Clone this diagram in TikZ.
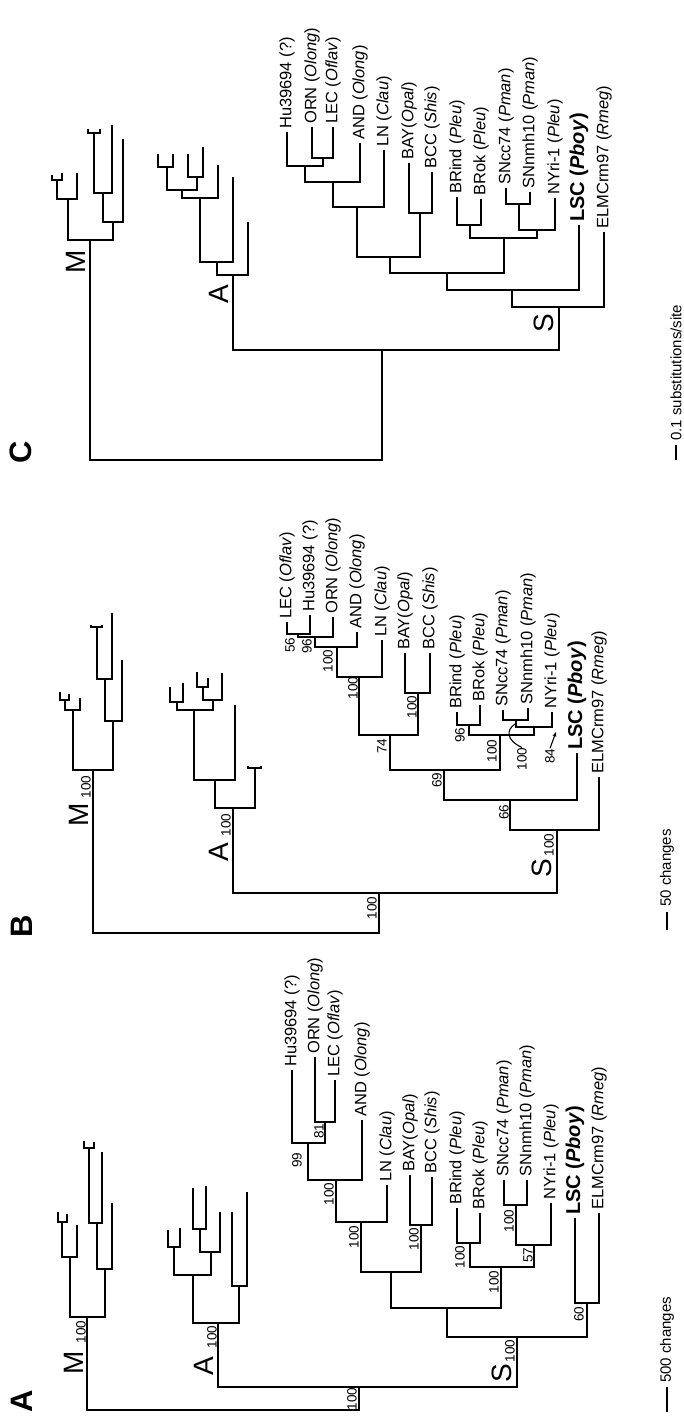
\documentclass[tikz,border=0pt]{standalone}
\usepackage{fontspec}
\setmainfont{Liberation Sans}
\usetikzlibrary{arrows.meta}
\tikzset{
  tree/.style={line width=2.2pt, line join=miter},
  tip/.style={rotate=90, anchor=west, inner xsep=3pt, inner ysep=0pt, font=\fontsize{16.5}{18}\selectfont},
  tipbig/.style={tip, font=\fontsize{20}{22}\selectfont\bfseries},
  boot/.style={rotate=90, inner sep=0pt, font=\fontsize{13.5}{14}\selectfont},
  clade/.style={rotate=90, inner sep=0pt, font=\fontsize{28}{30}\selectfont},
  panel/.style={rotate=90, inner sep=0pt, font=\fontsize{31}{33}\selectfont\bfseries},
  scaletext/.style={rotate=90, anchor=west, inner sep=0pt, font=\fontsize{15}{16}\selectfont},
  scalebar/.style={line width=1.6pt},
  leader/.style={line width=1.1pt},
}
\newcommand\mytips[1]{%
  \node[tip] (tHu#1) at (Hu#1) {Hu39694 (?)};
  \node[tip] (tORN#1) at (ORN#1) {ORN (\textit{Olong})};
  \node[tip] (tLEC#1) at (LEC#1) {LEC (\textit{Oflav})};
  \node[tip] (tAND#1) at (AND#1) {AND (\textit{Olong})};
  \node[tip] (tLN#1) at (LN#1) {LN (\textit{Clau})};
  \node[tip] (tBAY#1) at (BAY#1) {BAY(\textit{Opal})};
  \node[tip] (tBCC#1) at (BCC#1) {BCC (\textit{Shis})};
  \node[tip] (tBRind#1) at (BRind#1) {BRind (\textit{Pleu})};
  \node[tip] (tBRok#1) at (BRok#1) {BRok (\textit{Pleu})};
  \node[tip] (tSNcc#1) at (SNcc#1) {SNcc74 (\textit{Pman})};
  \node[tip] (tSNnm#1) at (SNnm#1) {SNnmh10 (\textit{Pman})};
  \node[tip] (tNYri#1) at (NYri#1) {NYri-1 (\textit{Pleu})};
  \node[tipbig] (tLSC#1) at (LSC#1) {LSC (\textit{Pboy})};
  \node[tip] (tELM#1) at (ELM#1) {ELMCrm97 (\textit{Rmeg})};
}
\newcommand\myedges[1]{%
  \foreach \c/\p in {m/root, as/root, a/as, s/as,
     m1/m, m2/m, m11/m1, m12/m1, m11a/m11, m11b/m11,
     m21/m2, m22/m2, m211/m21, m212/m21, m211a/m211, m211b/m211,
     s1/s, ELM/s, s2/s1, LSC/s1, s3/s2, s4/s2, s5/s3, s6/s3,
     BAY/s6, BCC/s6, s7/s5, LN/s5, s8/s7, AND/s7, s9/s8,
     s10/s4, s11/s4, BRind/s10, BRok/s10, s12/s11, NYri/s11,
     SNcc/s12, SNnm/s12}
    {\draw[tree] (\c#1) |- (\p#1);}
}
\begin{document}
\begin{tikzpicture}[x=1pt,y=-1pt]
\useasboundingbox[fill=white] (0,0) rectangle (684,1418);

% ================= Panel C =================
\coordinate (rootC) at (236,460);
\coordinate (mC) at (90,240);
\coordinate (asC) at (382,350);
\coordinate (aC) at (233,275);
\coordinate (sC) at (559,307);
\coordinate (m1C) at (68,199);
\coordinate (m2C) at (113,222);
\coordinate (m11C) at (57,180);
\coordinate (m11aC) at (52,175);
\coordinate (m11bC) at (62,173);
\coordinate (m12C) at (77,173);
\coordinate (m21C) at (103,193);
\coordinate (m22C) at (123,139);
\coordinate (m211C) at (94,133);
\coordinate (m212C) at (112,125);
\coordinate (m211aC) at (88,129);
\coordinate (m211bC) at (100,129);
\coordinate (a1C) at (217,262);
\coordinate (a2C) at (248,222);
\coordinate (a11C) at (200,198);
\coordinate (a12C) at (233,177);
\coordinate (a111C) at (182,190);
\coordinate (a112C) at (218,165);
\coordinate (a1111C) at (167,167);
\coordinate (a1112C) at (197,177);
\coordinate (a1111aC) at (158,154);
\coordinate (a1111bC) at (173,154);
\coordinate (a1112aC) at (188,154);
\coordinate (a1112bC) at (203,147);
\coordinate (s1C) at (512,290);
\coordinate (ELMC) at (604,232);
\coordinate (s2C) at (447,273);
\coordinate (LSCC) at (579,225);
\coordinate (s3C) at (390,257);
\coordinate (s4C) at (504,238);
\coordinate (s5C) at (357,207);
\coordinate (s6C) at (420,213);
\coordinate (BAYC) at (409,163);
\coordinate (BCCC) at (432,172);
\coordinate (s7C) at (333,182);
\coordinate (LNC) at (384,150);
\coordinate (s8C) at (305,166);
\coordinate (ANDC) at (360,143);
\coordinate (HuC) at (287,132);
\coordinate (s9C) at (323,158);
\coordinate (ORNC) at (312,127);
\coordinate (LECC) at (333,127);
\coordinate (s10C) at (470,225);
\coordinate (s11C) at (537,230);
\coordinate (BRindC) at (457,197);
\coordinate (BRokC) at (481,199);
\coordinate (s12C) at (519,204);
\coordinate (NYriC) at (555,198);
\coordinate (SNccC) at (506,188);
\coordinate (SNnmC) at (530,192);
\myedges{C}
\draw[tree] (HuC) |- (s8C);
\foreach \c/\p in {ORNC/s9C, LECC/s9C, a1C/aC, a2C/aC, a11C/a1C, a12C/a1C,
   a111C/a11C, a112C/a11C, a1111C/a111C, a1112C/a111C,
   a1111aC/a1111C, a1111bC/a1111C, a1112aC/a1112C, a1112bC/a1112C}
  {\draw[tree] (\c) |- (\p);}
\mytips{C}
\node[clade] (labMC) at (76,262) {M};
\node[clade] (labAC) at (219,294) {A};
\node[clade] (labSC) at (544,323) {S};
\node[panel] (panC) at (21,452) {C};
\coordinate (barC1) at (676,460);
\coordinate (barC2) at (676,445);
\draw[scalebar] (barC1) -- (barC2);
\node[scaletext] (scC) at (676,441) {0.1 substitutions/site};

% ================= Panel B =================
\coordinate (rootB) at (236,933);
\coordinate (mB) at (93,770);
\coordinate (asB) at (379,893);
\coordinate (aB) at (233,808);
\coordinate (sB) at (557,830);
\coordinate (m1B) at (73,710);
\coordinate (m2B) at (113,721);
\coordinate (m11B) at (65,700);
\coordinate (m11aB) at (60,692);
\coordinate (m11bB) at (69,694);
\coordinate (m12B) at (80,698);
\coordinate (m21B) at (105,679);
\coordinate (m22B) at (122,660);
\coordinate (m211B) at (97,627);
\coordinate (m212B) at (112,613);
\coordinate (m211aB) at (91,625);
\coordinate (m211bB) at (102,625);
\coordinate (a1B) at (215,780);
\coordinate (a2B) at (255,768);
\coordinate (a2aB) at (248,766);
\coordinate (a2bB) at (261,766);
\coordinate (a11B) at (194,710);
\coordinate (a12B) at (235,705);
\coordinate (a111B) at (177,702);
\coordinate (a112B) at (213,700);
\coordinate (a111aB) at (170,687);
\coordinate (a111bB) at (183,683);
\coordinate (a1121B) at (203,687);
\coordinate (a1122B) at (222,673);
\coordinate (a1121aB) at (197,672);
\coordinate (a1121bB) at (208,678);
\coordinate (s1B) at (510,800);
\coordinate (ELMB) at (599,777);
\coordinate (s2B) at (444,770);
\coordinate (LSCB) at (577,753);
\coordinate (s3B) at (390,735);
\coordinate (s4B) at (500,735);
\coordinate (s5B) at (359,677);
\coordinate (s6B) at (418,693);
\coordinate (BAYB) at (405,653);
\coordinate (BCCB) at (430,653);
\coordinate (s7B) at (337,647);
\coordinate (LNB) at (382,640);
\coordinate (s8B) at (315,637);
\coordinate (ANDB) at (357,632);
\coordinate (s9B) at (298,634);
\coordinate (ORNB) at (333,617);
\coordinate (LECB) at (287,622);
\coordinate (HuB) at (310,615);
\coordinate (s10B) at (469,725);
\coordinate (s11B) at (534,727);
\coordinate (BRindB) at (457,712);
\coordinate (BRokB) at (480,705);
\coordinate (s12B) at (516,720);
\coordinate (NYriB) at (552,712);
\coordinate (SNccB) at (503,710);
\coordinate (SNnmB) at (528,708);
\myedges{B}
\foreach \c/\p in {ORNB/s8B, LECB/s9B, HuB/s9B, a1B/aB, a2B/aB, a2aB/a2B, a2bB/a2B,
   a11B/a1B, a12B/a1B, a111B/a11B, a112B/a11B, a111aB/a111B, a111bB/a111B,
   a1121B/a112B, a1122B/a112B, a1121aB/a1121B, a1121bB/a1121B}
  {\draw[tree] (\c) |- (\p);}
\mytips{B}
\node[clade] (labMB) at (79,815) {M};
\node[boot] (bMB) at (86,787) {100};
\node[clade] (labAB) at (219,852) {A};
\node[boot] (bAB) at (226,825) {100};
\node[clade] (labSB) at (542,868) {S};
\node[boot] (bSB) at (549,845) {100};
\node[boot] (bASB) at (372,908) {100};
\node[boot] (b66B) at (504,812) {66};
\node[boot] (b69B) at (437,780) {69};
\node[boot] (b74B) at (382,746) {74};
\node[boot] (bBAYB) at (412,707) {100};
\node[boot] (bLNB) at (353,688) {100};
\node[boot] (bANDB) at (328,661) {100};
\node[boot] (b96B) at (307,646) {96};
\node[boot] (b56B) at (290,645) {56};
\node[boot] (b96bB) at (460,735) {96};
\node[boot] (bs4B) at (492,751) {100};
\node[boot] (bSNB) at (522,759) {100};
\node[boot] (b84B) at (550,756) {84};
\coordinate (ldSN) at (515,724);
\coordinate (ar84) at (556,732);
\draw[leader] (bSNB.east) .. controls (506,740) and (506,730) .. (ldSN);
\draw[leader,-{Stealth[length=5pt,width=4pt]}] (b84B.east) -- (ar84);
\node[panel] (panB) at (22,926) {B};
\coordinate (barB1) at (667,930);
\coordinate (barB2) at (667,912);
\draw[scalebar] (barB1) -- (barB2);
\node[scaletext] (scB) at (667,907) {50 changes};

% ================= Panel A =================
\coordinate (rootA) at (223,1410);
\coordinate (mA) at (87,1317);
\coordinate (asA) at (359,1387);
\coordinate (aA) at (218,1323);
\coordinate (sA) at (517,1337);
\coordinate (m1A) at (70,1257);
\coordinate (m2A) at (105,1269);
\coordinate (m11A) at (62,1222);
\coordinate (m11aA) at (58,1212);
\coordinate (m11bA) at (67,1214);
\coordinate (m12A) at (77,1225);
\coordinate (m21A) at (97,1223);
\coordinate (m22A) at (112,1203);
\coordinate (m211A) at (89,1148);
\coordinate (m212A) at (102,1152);
\coordinate (m211aA) at (84,1141);
\coordinate (m211bA) at (94,1142);
\coordinate (a1A) at (193,1275);
\coordinate (a2A) at (239,1286);
\coordinate (a2aA) at (232,1212);
\coordinate (a2bA) at (247,1192);
\coordinate (a11A) at (174,1247);
\coordinate (a12A) at (211,1252);
\coordinate (a11aA) at (168,1230);
\coordinate (a11bA) at (180,1228);
\coordinate (a121A) at (200,1229);
\coordinate (a122A) at (220,1212);
\coordinate (a121aA) at (193,1188);
\coordinate (a121bA) at (206,1186);
\coordinate (s1A) at (447,1308);
\coordinate (s2A) at (587,1303);
\coordinate (LSCA) at (575,1218);
\coordinate (ELMA) at (599,1213);
\coordinate (s3A) at (391,1272);
\coordinate (s4A) at (501,1267);
\coordinate (s5A) at (361,1222);
\coordinate (s6A) at (421,1225);
\coordinate (BAYA) at (410,1175);
\coordinate (BCCA) at (432,1177);
\coordinate (s7A) at (336,1180);
\coordinate (LNA) at (387,1185);
\coordinate (s8A) at (308,1143);
\coordinate (ANDA) at (362,1120);
\coordinate (HuA) at (292,1070);
\coordinate (s9A) at (325,1122);
\coordinate (ORNA) at (315,1057);
\coordinate (LECA) at (335,1080);
\coordinate (s10A) at (470,1243);
\coordinate (s11A) at (534,1245);
\coordinate (BRindA) at (457,1208);
\coordinate (BRokA) at (480,1213);
\coordinate (s12A) at (516,1205);
\coordinate (NYriA) at (551,1203);
\coordinate (SNccA) at (504,1180);
\coordinate (SNnmA) at (527,1180);
\foreach \c/\p in {m/root, as/root, a/as, s/as,
     m1/m, m2/m, m11/m1, m12/m1, m11a/m11, m11b/m11,
     m21/m2, m22/m2, m211/m21, m212/m21, m211a/m211, m211b/m211,
     s1/s, s2/s, LSC/s2, ELM/s2, s3/s1, s4/s1, s5/s3, s6/s3,
     BAY/s6, BCC/s6, s7/s5, LN/s5, s8/s7, AND/s7, Hu/s8, s9/s8, ORN/s9, LEC/s9,
     s10/s4, s11/s4, BRind/s10, BRok/s10, s12/s11, NYri/s11,
     SNcc/s12, SNnm/s12,
     a1/a, a2/a, a2a/a2, a2b/a2, a11/a1, a12/a1, a11a/a11, a11b/a11,
     a121/a12, a122/a12, a121a/a121, a121b/a121}
  {\draw[tree] (\c A) |- (\p A);}
\mytips{A}
\node[clade] (labMA) at (74,1363) {M};
\node[boot] (bMA) at (81,1332) {100};
\node[clade] (labAA) at (204,1366) {A};
\node[boot] (bAA) at (212,1337) {100};
\node[clade] (labSA) at (502,1373) {S};
\node[boot] (bSA) at (510,1351) {100};
\node[boot] (bRootA) at (352,1399) {100};
\node[boot] (b60A) at (579,1314) {60};
\node[boot] (bs4A) at (494,1282) {100};
\node[boot] (bs10A) at (460,1257) {100};
\node[boot] (b57A) at (528,1255) {57};
\node[boot] (bs12A) at (509,1221) {100};
\node[boot] (bs6A) at (414,1239) {100};
\node[boot] (bs5A) at (354,1237) {100};
\node[boot] (bs7A) at (329,1194) {100};
\node[boot] (b99A) at (297,1160) {99};
\node[boot] (b81A) at (319,1131) {81};
\node[panel] (panA) at (22,1401) {A};
\coordinate (barA1) at (667,1412);
\coordinate (barA2) at (667,1387);
\draw[scalebar, line width=2.4pt] (barA1) -- (barA2);
\node[scaletext] (scA) at (667,1383) {500 changes};
\end{tikzpicture}
\end{document}
